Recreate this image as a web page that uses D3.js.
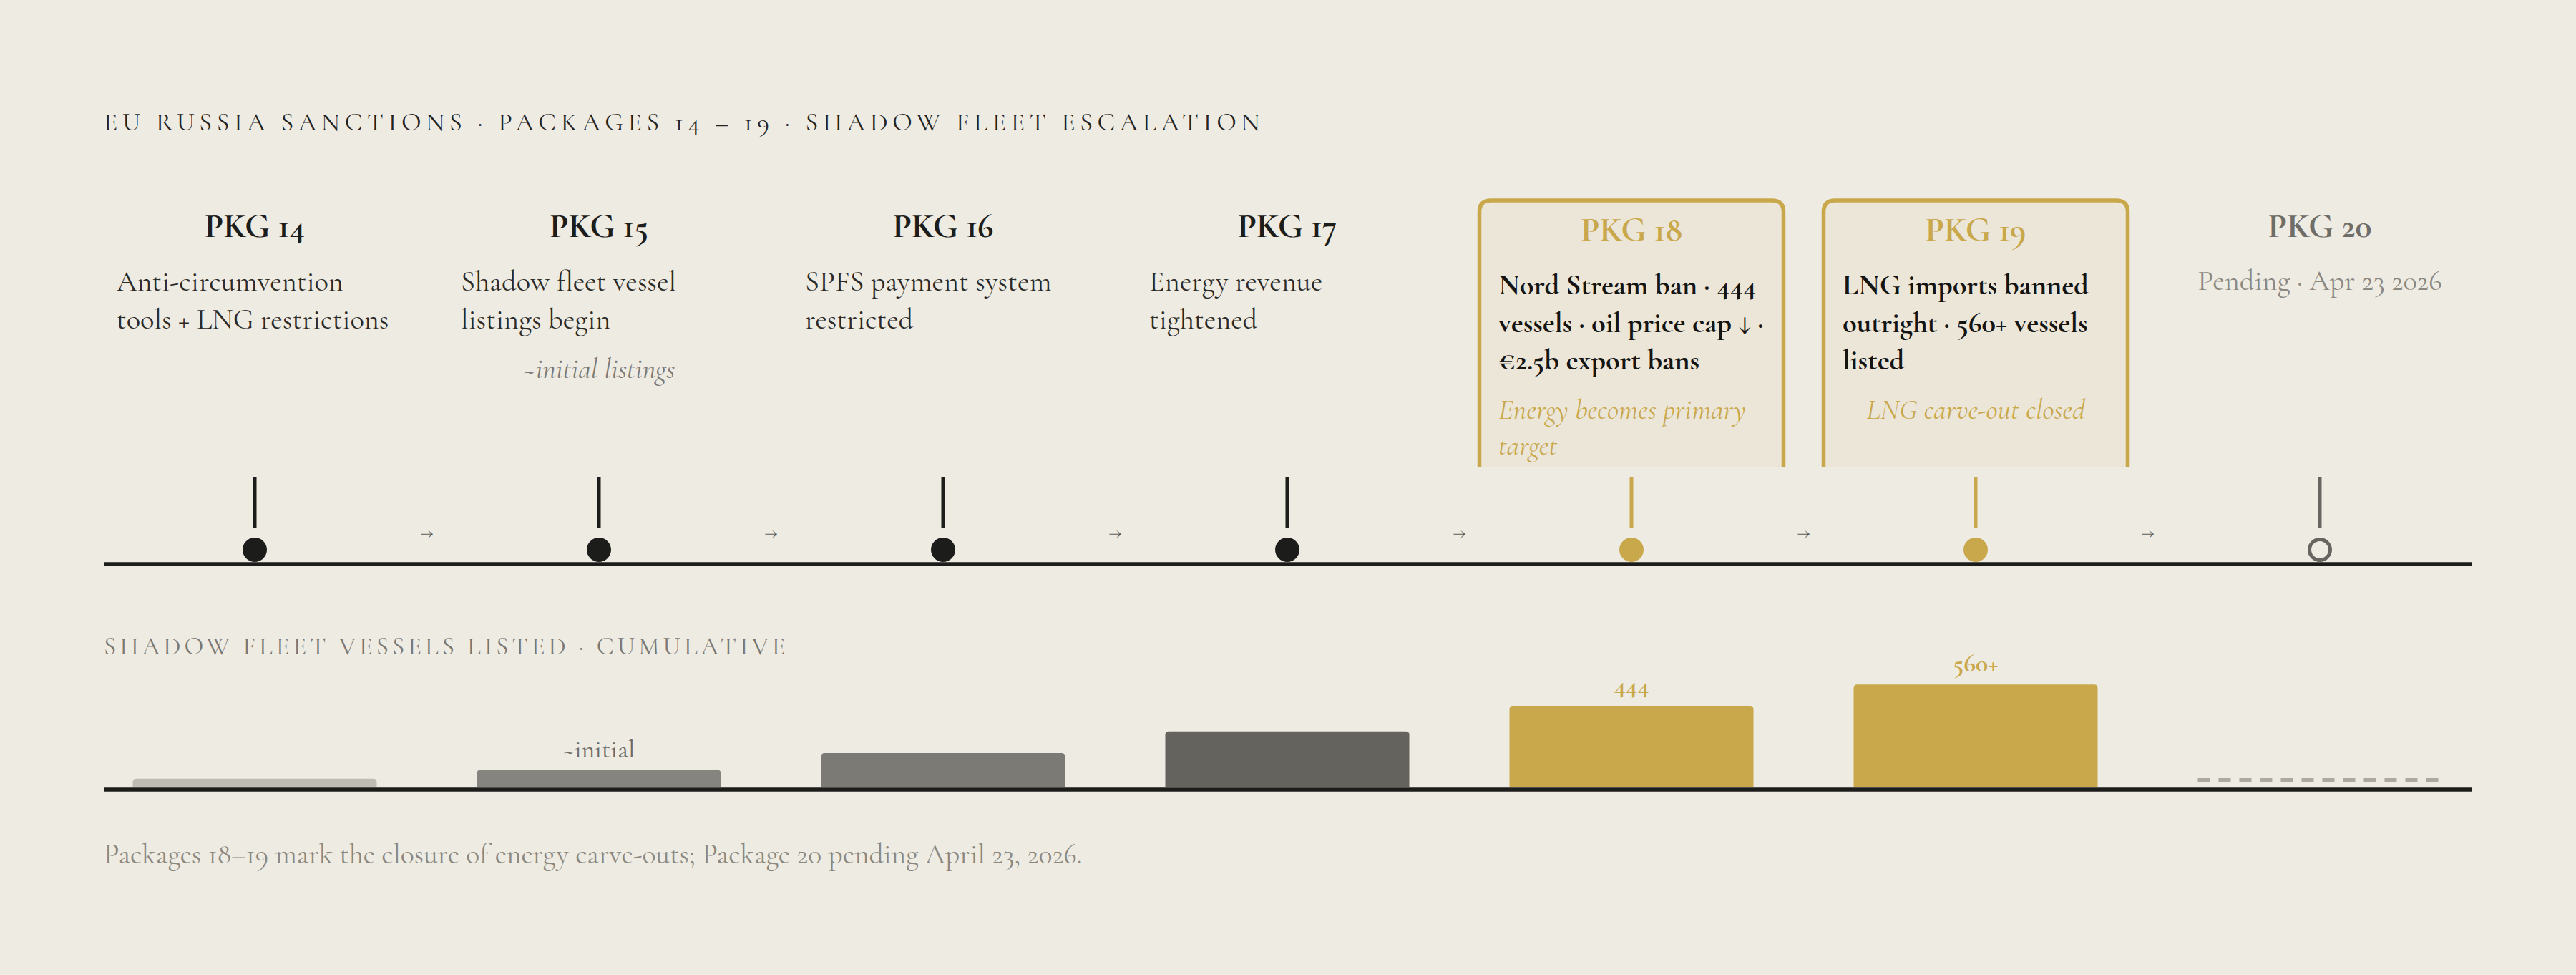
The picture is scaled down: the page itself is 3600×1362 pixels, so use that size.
<!DOCTYPE html>
<html>
<head>
<meta charset="utf-8">
<script src="https://cdn.jsdelivr.net/npm/d3@7"></script>
<style>
  html, body { margin: 0; padding: 0; background: #EEEBE3; }
  svg { display: block; }
</style>
</head>
<body>
<div id="chart"></div>
<script>
// timeline packages
var packages = ["PKG 14", "PKG 15", "PKG 16", "PKG 17", "PKG 18", "PKG 19", "PKG 20"];
var pkgStatus = ["past", "past", "past", "past", "key", "key", "pending"];
var descriptions = [
  ["Anti-circumvention", "tools + LNG restrictions"],
  ["Shadow fleet vessel", "listings begin"],
  ["SPFS payment system", "restricted"],
  ["Energy revenue", "tightened"],
  ["Nord Stream ban · 444", "vessels · oil price cap ↓ ·", "€2.5b export bans"],
  ["LNG imports banned", "outright · 560+ vessels", "listed"],
  ["Pending · Apr 23 2026"]
];
var notes = [[], ["~initial listings"], [], [], ["Energy becomes primary", "target"], ["LNG carve-out closed"], []];

// cumulative shadow fleet vessels listed (pkg 20 pending -> no bar)
var vesselsListed = [48, 95, 187, 305, 444, 560, null];
var barLabels = ["", "~initial", "", "", "444", "560+", ""];

var titleText = "EU RUSSIA SANCTIONS · PACKAGES 14 – 19 · SHADOW FLEET ESCALATION";
var subTitleText = "SHADOW FLEET VESSELS LISTED · CUMULATIVE";
var footText = "Packages 18–19 mark the closure of energy carve-outs; Package 20 pending April 23, 2026.";

var W = 3600, H = 1362;
var serif = "'Cormorant Garamond', 'Liberation Serif', serif";
var gold = "#C9A84C", ink = "#1C1C1A", grey = "#6B6A66", bg = "#EEEBE3";
var barColors = ["#BFBCB4", "#85847E", "#7B7A74", "#64635E", gold, gold, "#ADA9A0"];

var svg = d3.select("#chart").append("svg")
  .attr("width", W).attr("height", H)
  .style("background-color", bg);

var left = 145, right = 3455;
var x = d3.scalePoint().domain(packages).range([356, 3242]);
var step = x.step();
var axisY = 788, barBase = 1100;
var hScale = d3.scaleLinear().domain([0, 600]).range([0, 154]);
var color = d3.scaleOrdinal().domain(packages).range(barColors);

var rows = packages.map(function(p, i){
  return {pkg: p, status: pkgStatus[i], desc: descriptions[i], note: notes[i],
          v: vesselsListed[i], label: barLabels[i]};
});

// title
svg.append("text")
  .attr("x", left).attr("y", 182)
  .attr("font-family", serif).attr("font-size", 36)
  .attr("letter-spacing", 6.65)
  .attr("fill", "#24231F")
  .text(titleText);

// boxes for key packages
var boxW = 425, boxTop = 280, boxBot = 653, rr = 16;
function boxPath(x0, closed){
  var x1 = x0 + boxW;
  var p = "M" + x0 + "," + boxBot + "L" + x0 + "," + (boxTop + rr) +
    "Q" + x0 + "," + boxTop + " " + (x0 + rr) + "," + boxTop +
    "L" + (x1 - rr) + "," + boxTop +
    "Q" + x1 + "," + boxTop + " " + x1 + "," + (boxTop + rr) +
    "L" + x1 + "," + boxBot;
  return closed ? p + "Z" : p;
}
var keyRows = rows.filter(function(d){ return d.status === "key"; });
svg.selectAll("path.boxfill").data(keyRows).join("path")
  .attr("class", "boxfill")
  .attr("d", function(d){ return boxPath(x(d.pkg) - boxW / 2, true); })
  .attr("fill", "#ECE6D9");
svg.selectAll("path.boxline").data(keyRows).join("path")
  .attr("class", "boxline")
  .attr("d", function(d){ return boxPath(x(d.pkg) - boxW / 2, false); })
  .attr("fill", "none").attr("stroke", gold).attr("stroke-width", 5.5);

// columns
var col = svg.selectAll("g.col").data(rows).join("g")
  .attr("class", "col")
  .attr("transform", function(d){ return "translate(" + x(d.pkg) + ",0)"; });

col.append("text")
  .attr("text-anchor", "middle")
  .attr("y", function(d){ return d.status === "key" ? 336 : 331; })
  .attr("font-family", serif).attr("font-size", 48)
  .attr("font-weight", 700)
  .attr("fill", function(d){ return d.status === "key" ? gold : d.status === "pending" ? "#6E6D68" : ink; })
  .text(function(d){ return d.pkg; });

col.each(function(d){
  var g = d3.select(this);
  var key = d.status === "key";
  var y0 = key ? 411 : 406, lh = 52.5;
  var tx = key ? -186 : -193;
  g.selectAll("text.desc").data(d.desc).join("text")
    .attr("class", "desc")
    .attr("x", d.status === "pending" ? 0 : tx)
    .attr("y", function(t, i){ return (d.status === "pending" ? 405 : y0 + i * lh); })
    .attr("text-anchor", d.status === "pending" ? "middle" : "start")
    .attr("font-family", serif)
    .attr("font-size", 40.5)
    .attr("font-weight", key ? 700 : 400)
    .attr("fill", key ? "#141412" : d.status === "pending" ? "#8B8880" : "#2B2A27")
    .text(function(t){ return t; });
  var ny = y0 + (d.desc.length - 1) * lh + 69;
  var multi = d.note.length > 1;
  g.selectAll("text.note").data(d.note).join("text")
    .attr("class", "note")
    .attr("x", multi ? tx : 0)
    .attr("y", function(t, i){ return ny + i * 50; })
    .attr("text-anchor", multi ? "start" : "middle")
    .attr("font-family", serif).attr("font-style", "italic")
    .attr("font-size", 40)
    .attr("fill", key ? gold : "#7B7975")
    .text(function(t){ return t; });
});

// stems + dots
col.append("line")
  .attr("y1", 666).attr("y2", 737)
  .attr("stroke", function(d){ return d.status === "key" ? gold : d.status === "pending" ? "#666560" : ink; })
  .attr("stroke-width", 5);
col.append("circle")
  .attr("cy", 768)
  .attr("r", function(d){ return d.status === "pending" ? 14.5 : 17; })
  .attr("fill", function(d){ return d.status === "key" ? gold : d.status === "pending" ? bg : ink; })
  .attr("stroke", function(d){ return d.status === "pending" ? "#666560" : "none"; })
  .attr("stroke-width", 5);

// arrows between packages
svg.selectAll("text.arrow").data(packages.slice(1)).join("text")
  .attr("class", "arrow")
  .attr("x", function(p){ return x(p) - step / 2; })
  .attr("y", 753)
  .attr("text-anchor", "middle")
  .attr("font-family", serif).attr("font-size", 28)
  .attr("fill", "#5E5D59")
  .text("→");

// timeline axis
svg.append("line")
  .attr("x1", left).attr("x2", right)
  .attr("y1", axisY).attr("y2", axisY)
  .attr("stroke", ink).attr("stroke-width", 5.5);

// lower section
svg.append("text")
  .attr("x", left).attr("y", 914)
  .attr("font-family", serif).attr("font-size", 35)
  .attr("letter-spacing", 5)
  .attr("fill", "#7A7872")
  .text(subTitleText);

var barW = step * 0.709, br = 5;
function topRounded(x0, y0, w, h){
  var r = Math.min(br, h);
  return "M" + x0 + "," + (y0 + h) + "L" + x0 + "," + (y0 + r) +
    "Q" + x0 + "," + y0 + " " + (x0 + r) + "," + y0 +
    "L" + (x0 + w - r) + "," + y0 +
    "Q" + (x0 + w) + "," + y0 + " " + (x0 + w) + "," + (y0 + r) +
    "L" + (x0 + w) + "," + (y0 + h) + "Z";
}
var barRows = rows.filter(function(d){ return d.v != null; });
svg.selectAll("path.bar").data(barRows).join("path")
  .attr("class", "bar")
  .attr("d", function(d){
    var h = hScale(d.v);
    return topRounded(x(d.pkg) - barW / 2, barBase - h, barW, h);
  })
  .attr("fill", function(d){ return color(d.pkg); });

svg.selectAll("text.barlabel").data(barRows.filter(function(d){ return d.label; })).join("text")
  .attr("class", "barlabel")
  .attr("x", function(d){ return x(d.pkg); })
  .attr("y", function(d){ return barBase - hScale(d.v) - 18; })
  .attr("text-anchor", "middle")
  .attr("font-family", serif).attr("font-size", 36)
  .attr("font-weight", function(d){ return d.status === "key" ? 700 : 400; })
  .attr("fill", function(d){ return d.status === "key" ? gold : grey; })
  .text(function(d){ return d.label; });

// pending package: dashed placeholder
var pend = rows.filter(function(d){ return d.v == null; });
svg.selectAll("line.pending").data(pend).join("line")
  .attr("class", "pending")
  .attr("x1", function(d){ return x(d.pkg) - barW / 2; })
  .attr("x2", function(d){ return x(d.pkg) + barW / 2; })
  .attr("y1", barBase - 10).attr("y2", barBase - 10)
  .attr("stroke", color("PKG 20")).attr("stroke-width", 6)
  .attr("stroke-dasharray", "17 12");

svg.append("line")
  .attr("x1", left).attr("x2", right)
  .attr("y1", barBase + 3).attr("y2", barBase + 3)
  .attr("stroke", ink).attr("stroke-width", 5.5);

svg.append("text")
  .attr("x", left).attr("y", 1206)
  .attr("font-family", serif).attr("font-size", 39.7)
  .attr("fill", "#8B8880")
  .text(footText);
</script>
</body>
</html>
